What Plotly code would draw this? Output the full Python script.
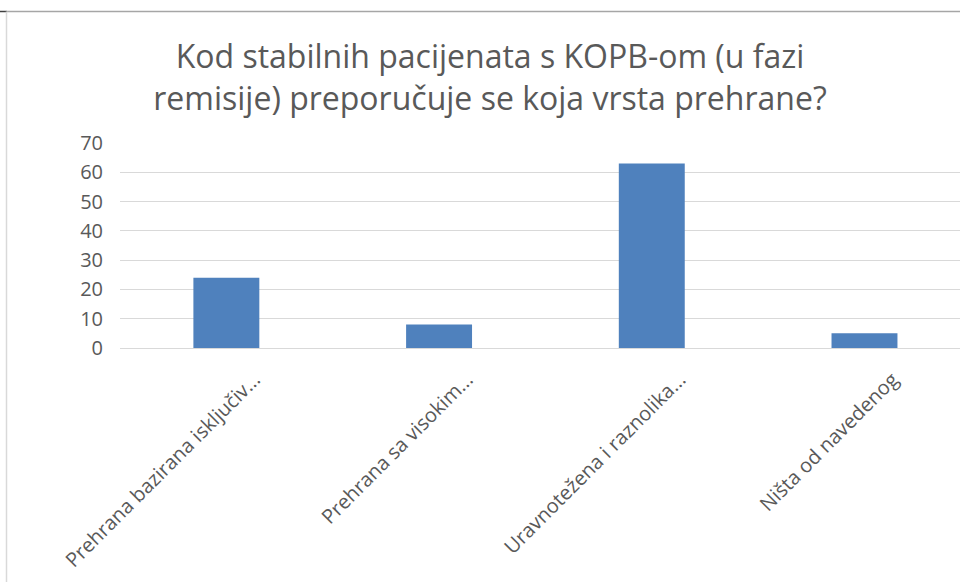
import plotly.graph_objects as go

categories = [
    "Prehrana bazirana isključiv...",
    "Prehrana sa visokim...",
    "Uravnotežena i raznolika...",
    "Ništa od navedenog",
]
values = [24, 8, 63, 5]
y_ticks = [0, 10, 20, 30, 40, 50, 60, 70]
title_text = "Kod stabilnih pacijenata s KOPB-om (u fazi<br>remisije) preporučuje se koja vrsta prehrane?"

W, H = 960, 582
L, R, T, B = 120, 0, 143, 234
pw, ph = W - L - R, H - T - B

def px_x(x):
    return (x - L) / pw

def px_y(y):
    return (H - B - y) / ph

fig = go.Figure(
    go.Bar(x=categories, y=values, marker=dict(color="#4f81bd", line=dict(width=0)),
           hoverinfo="skip")
)

fig.update_layout(
    width=W, height=H,
    margin=dict(l=L, r=R, t=T, b=B, autoexpand=False),
    paper_bgcolor="white", plot_bgcolor="white",
    font=dict(family="Open Sans", color="#595959"),
    bargap=0.69,
    showlegend=False,
    title=dict(
        text=title_text,
        x=490 / W, xanchor="center", xref="container",
        y=1 - 68 / H, yanchor="top", yref="container",
        font=dict(size=32, color="#595959", family="Open Sans"),
    ),
    xaxis=dict(
        range=[-0.5, 3.449],
        showgrid=False,
        showline=True, linecolor="#d9d9d9", linewidth=1,
        tickangle=-45,
        tickfont=dict(size=20, color="#595959"),
        ticks="", ticklabelshift=28, ticklabelstandoff=11,
    ),
    yaxis=dict(
        range=[0, 70],
        tickvals=y_ticks,
        showgrid=True, gridcolor="#d9d9d9", gridwidth=1,
        zeroline=False, showline=False,
        tickfont=dict(size=20, color="#595959"),
        ticks="", ticklabelstandoff=16,
    ),
    shapes=[
        dict(type="line", xref="paper", yref="paper",
             x0=px_x(7), x1=px_x(W), y0=px_y(11.5), y1=px_y(11.5),
             line=dict(color="#a6a6a6", width=1.5)),
        dict(type="line", xref="paper", yref="paper",
             x0=px_x(0), x1=px_x(7), y0=px_y(11.5), y1=px_y(11.5),
             line=dict(color="#404040", width=1.5)),
        dict(type="line", xref="paper", yref="paper",
             x0=px_x(6.5), x1=px_x(6.5), y0=px_y(11.5), y1=px_y(H),
             line=dict(color="#d9d9d9", width=1.5)),
    ],
)

fig.write_html(
    "out.html",
    config={"displayModeBar": False},
    post_script="document.body.style.margin='0';document.body.style.overflow='hidden';",
)
